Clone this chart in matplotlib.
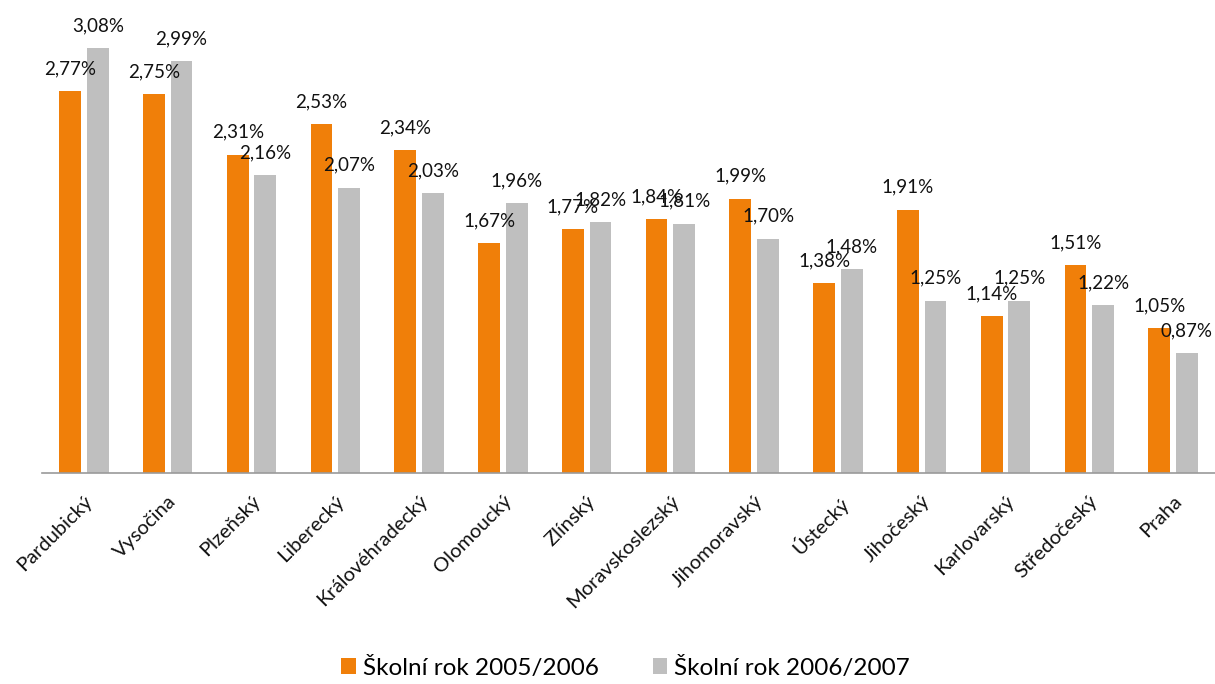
import numpy as np
import matplotlib.pyplot as plt

plt.rcParams['font.family'] = ['Lato', 'DejaVu Sans']

regions = ['Pardubický', 'Vysočina', 'Plzeňský', 'Liberecký', 'Královéhradecký',
           'Olomoucký', 'Zlínský', 'Moravskoslezský', 'Jihomoravský', 'Ústecký',
           'Jihočeský', 'Karlovarský', 'Středočeský', 'Praha']
rok_2005 = [2.77, 2.75, 2.31, 2.53, 2.34, 1.67, 1.77, 1.84, 1.99, 1.38, 1.91, 1.14, 1.51, 1.05]
rok_2006 = [3.08, 2.99, 2.16, 2.07, 2.03, 1.96, 1.82, 1.81, 1.70, 1.48, 1.25, 1.25, 1.22, 0.87]
series_names = ['Školní rok 2005/2006', 'Školní rok 2006/2007']

orange = '#F07F09'
grey = '#BFBFBF'

fig = plt.figure(figsize=(12.15, 6.84), dpi=100)
ax = fig.add_axes([0.0346, 0.3085, 0.9654, 0.665])

x = np.arange(len(regions))
w = 0.26
b1 = ax.bar(x - 0.165, rok_2005, w, color=orange, label=series_names[0])
b2 = ax.bar(x + 0.165, rok_2006, w, color=grey, label=series_names[1])

def fmt(v):
    return ('%.2f%%' % v).replace('.', ',')

for bars, vals in ((b1, rok_2005), (b2, rok_2006)):
    for r, v in zip(bars, vals):
        ax.annotate(fmt(v), (r.get_x() + r.get_width() / 2, v),
                    xytext=(0, 10), textcoords='offset points',
                    ha='center', va='bottom', fontsize=13.5, color='#111111')

ax.set_xlim(-0.5, len(regions) - 0.5)
ax.set_ylim(0, 3.3)
ax.set_yticks([])
for s in ['top', 'right', 'left']:
    ax.spines[s].set_visible(False)
ax.spines['bottom'].set_color('#9a9a9a')
ax.spines['bottom'].set_linewidth(1.2)

ax.set_xticks(x)
ax.set_xticklabels(regions, rotation=45, ha='right', rotation_mode='anchor',
                   fontsize=14.5, color='#111111')
ax.tick_params(axis='x', length=0, pad=14)

fig.legend(handles=[b1, b2], loc='center', bbox_to_anchor=(0.515, 0.024),
           ncol=2, frameon=False, fontsize=17.5, handlelength=0.6,
           handleheight=0.6, handletextpad=0.3, columnspacing=2.2)

fig.savefig('out.png', dpi=100)
